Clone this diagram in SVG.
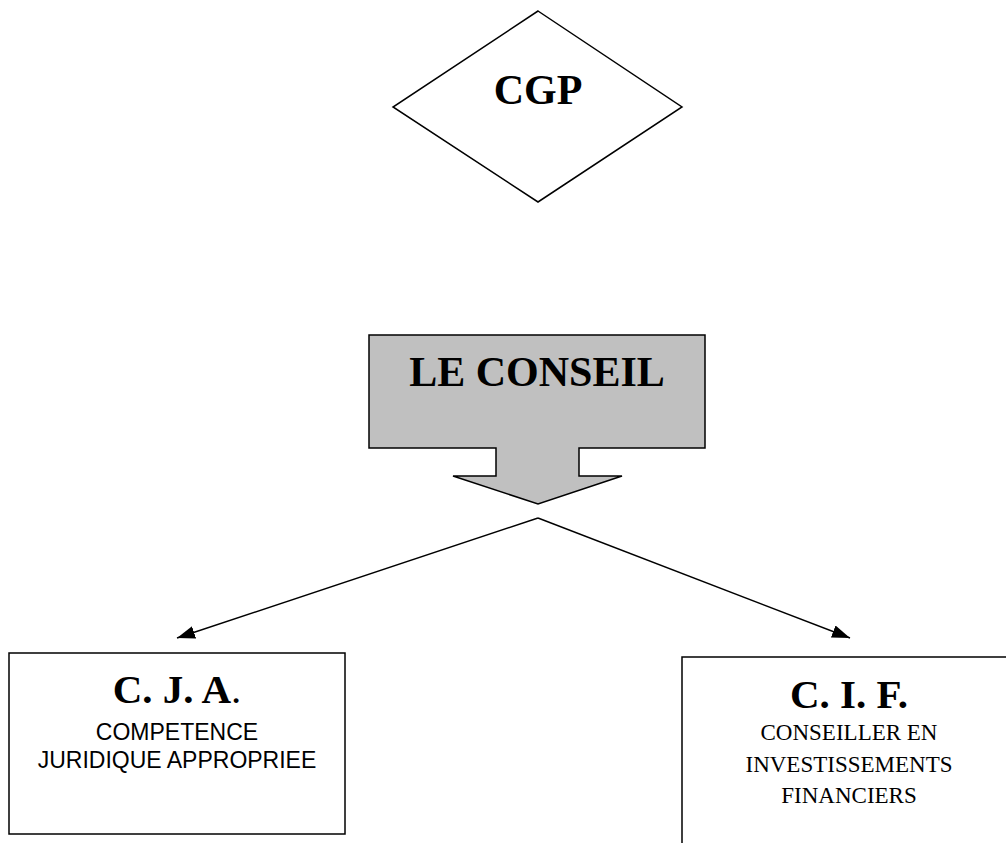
<svg xmlns="http://www.w3.org/2000/svg" width="1006" height="843" viewBox="0 0 1006 843">
<style>
.shape{stroke:#000;stroke-width:1.5;}
.title{font-family:"Liberation Serif","Times New Roman",serif;font-weight:bold;text-anchor:middle;fill:#000;}
.sans{font-family:"Liberation Sans",Arial,sans-serif;text-anchor:middle;fill:#000;font-size:23px;}
.serif{font-family:"Liberation Serif","Times New Roman",serif;text-anchor:middle;fill:#000;font-size:23px;}
.conn{stroke:#000;stroke-width:1.4;fill:none;}
</style>
<defs>
<marker id="arr" viewBox="0 0 18 13" markerWidth="18" markerHeight="13" refX="18" refY="6.5" orient="auto" markerUnits="userSpaceOnUse">
<path d="M0,0 L18,6.5 L0,13 z" fill="#000"/>
</marker>
</defs>
<rect width="1006" height="843" fill="#fff"/>
<g id="cgp">
<polygon class="shape" fill="#fff" points="538,11 682,107 538,202 393,107"/>
<text class="title" x="538" y="104" font-size="42">CGP</text>
</g>
<g id="conseil">
<polygon class="shape" fill="#c0c0c0" points="369,335 705,335 705,448 579,448 579,476 622,476 538,504 453,476 496,476 496,448 369,448"/>
<text class="title" x="537" y="386" font-size="42">LE CONSEIL</text>
</g>
<g id="connectors">
<line class="conn" x1="538" y1="518" x2="177" y2="638" marker-end="url(#arr)"/>
<line class="conn" x1="538" y1="518" x2="850" y2="638" marker-end="url(#arr)"/>
</g>
<g id="cja">
<rect class="shape" fill="#fff" x="9" y="653" width="336" height="181"/>
<text class="title" x="177" y="703" font-size="41">C. J. A<tspan font-weight="normal">.</tspan></text>
<text class="sans" x="177" y="740">COMPETENCE</text>
<text class="sans" x="177" y="768">JURIDIQUE APPROPRIEE</text>
</g>
<g id="cif">
<rect class="shape" fill="#fff" x="682" y="657" width="335" height="200"/>
<text class="title" x="849" y="708" font-size="41">C. I. F.</text>
<text class="serif" x="849" y="740">CONSEILLER EN</text>
<text class="serif" x="849" y="772">INVESTISSEMENTS</text>
<text class="serif" x="849" y="803">FINANCIERS</text>
</g>
</svg>
